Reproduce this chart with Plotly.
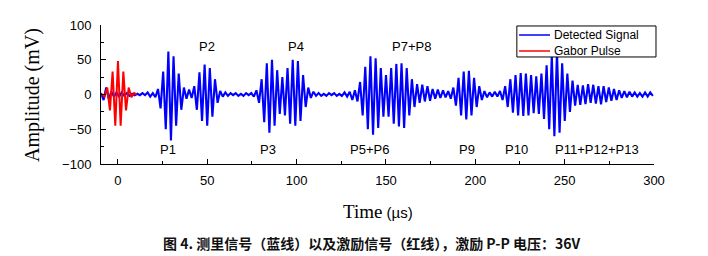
import numpy as np
import plotly.graph_objects as go

# ---------------- data ----------------
# Detected signal: successive oscillation extrema (mV), sampled every half period
blue_t_start = -9.5      # µs
blue_step = 1.45         # µs between successive extrema
blue_peaks = [
    2, -8, 10, -6, 4, -3, 3, -3, 3, -2,            # k0-9
    2, -2, 1, -1, 1, -1, 2, -1, 3, -3,             # k10-19
    2, -4, 8, -20, 33, -50, 62, -66, 55, -45,      # k20-29  P1
    30, -22, 10, -6, 7, -5, 12, -22, 32, -38,      # k30-39  P2 start
    43, -45, 38, -32, 22, -12, 5, -3, 3, -2,       # k40-49
    2, -1, 2, -2, 1, -2, 2, -1, 2, -3,             # k50-59
    6, -12, 22, -40, 45, -55, 50, -45, 35, -28,    # k60-69  P3
    25, -30, 38, -42, 50, -45, 48, -38, 28, -18,   # k70-79  P4
    10, -5, 4, -2, 2, -2, 1, -2, 2, -1,            # k80-89
    2, -2, 1, -2, 3, -3, 4, -8, 6, -10,            # k90-99
    18, -30, 40, -50, 55, -58, 52, -48, 38, -32,   # k100-109 P5+P6
    28, -32, 38, -42, 44, -46, 45, -48, 38, -30,   # k110-119 P7+P8
    22, -18, 15, -12, 14, -10, 12, -9, 8, -6,      # k120-129
    7, -5, 6, -4, 5, -6, 10, -16, 24, -30,         # k130-139 P9
    33, -36, 34, -30, 24, -18, 12, -8, 5, -4,      # k140-149
    3, -3, 4, -3, 5, -8, 12, -18, 22, -26,         # k150-159 P10
    28, -30, 31, -31, 30, -30, 28, -27, 26, -28,   # k160-169
    30, -35, 42, -50, 56, -60, 62, -55, 45, -38,   # k170-179 P11+P12+P13
    30, -25, 20, -16, 14, -15, 13, -14, 15, -12,   # k180-189
    14, -13, 12, -14, 12, -11, 10, -9, 8, -8,      # k190-199
    6, -5, 5, -4, 4, -3, 3, -3, 2, -3,             # k200-209
    3, -3, 3, -2,                                  # k210-213
]

# Gabor excitation pulse
red_time = [-9, -7.5, -6, -4.5, -3, -1.5, 0, 1.5, 3, 4.5, 6, 7.5, 9, 10.5]
red_amp = [0, -3, 10, -23, 33, -45, 48, -45, 33, -23, 10, -4, 2, 0]

# Packet labels
label_text = ["P1", "P2", "P3", "P4", "P5+P6", "P7+P8", "P9", "P10", "P11+P12+P13"]
label_t = [28.0, 49.8, 83.9, 99.6, 140.5, 164.5, 195.3, 223.3, 268.0]
label_v = [-79, 69, -79, 69, -79, 69, -79, -79, -79]

x_ticks = [0, 50, 100, 150, 200, 250, 300]
y_ticks = [-100, -50, 0, 50, 100]

series_names = ["Detected Signal", "Gabor Pulse"]
series_colors = ["#0000FF", "#FF0000"]

caption = "图 4. 测里信号（蓝线）以及激励信号（红线），激励 P-P 电压：36V"

# ---------------- figure ----------------
blue_time = blue_t_start + blue_step * np.arange(len(blue_peaks))

fig = go.Figure()
fig.add_trace(go.Scatter(x=blue_time, y=blue_peaks, mode="lines",
                         line=dict(color=series_colors[0], width=2.1),
                         name=series_names[0], showlegend=False))
fig.add_trace(go.Scatter(x=red_time, y=red_amp, mode="lines",
                         line=dict(color=series_colors[1], width=2),
                         name=series_names[1], showlegend=False))

for txt, t, v in zip(label_text, label_t, label_v):
    fig.add_annotation(x=t, y=v, text=txt, showarrow=False,
                       font=dict(family="Liberation Sans, Arial", size=13, color="#000"),
                       xanchor="center", yanchor="middle")

# Legend box (drawn in paper coordinates)
fig.add_shape(type="rect", xref="paper", yref="paper", x0=0.752, x1=1.0036,
              y0=0.770, y1=0.993, line=dict(color="#000", width=1), fillcolor="white",
              layer="above")
for i, (nm, col) in enumerate(zip(series_names, series_colors)):
    yy = 0.928 - i * 0.115
    fig.add_shape(type="line", xref="paper", yref="paper", x0=0.756, x1=0.812,
                  y0=yy, y1=yy, line=dict(color=col, width=1.5), layer="above")
    fig.add_annotation(xref="paper", yref="paper", x=0.8156, y=yy, text=nm,
                       showarrow=False, xanchor="left", yanchor="middle",
                       font=dict(family="Liberation Sans, Arial", size=12, color="#000"))

fig.add_annotation(xref="paper", yref="paper", x=0.5, y=-0.345,
                   text="<span style='font-family:Liberation Serif'>Time</span>"
                        "<span style='font-family:Liberation Sans;font-size:15px'> (µs)</span>",
                   showarrow=False, xanchor="center", yanchor="middle",
                   font=dict(family="Liberation Serif", size=19, color="#000"))

fig.add_annotation(xref="paper", yref="paper", x=-0.124, y=0.5,
                   text="Amplitude (mV)", textangle=-90, showarrow=False,
                   xanchor="center", yanchor="middle",
                   font=dict(family="Liberation Serif", size=20, color="#000"))

fig.add_annotation(xref="paper", yref="paper", x=0.49, y=-0.565,
                   text="<b>" + caption + "</b>", showarrow=False,
                   xanchor="center", yanchor="middle",
                   font=dict(family="Noto Sans CJK SC", size=14, color="#111"))

axis_common = dict(showgrid=False, zeroline=False, showline=True, linecolor="#000",
                   linewidth=1, ticks="inside", ticklen=5, tickwidth=1, tickcolor="#000",
                   tickfont=dict(family="Liberation Sans, Arial", size=13, color="#000"),
                   minor=dict(ticks="inside", ticklen=3, tickwidth=1, tickcolor="#000",
                              dtick=25))

fig.update_xaxes(range=[-9.5, 300], tickvals=x_ticks, ticklabelstandoff=4, **axis_common)
fig.update_yaxes(range=[-100, 100], tickvals=y_ticks, ticklabelstandoff=6, **axis_common)

fig.update_layout(
    width=708, height=256,
    margin=dict(l=101, r=54, t=25, b=92),
    plot_bgcolor="white", paper_bgcolor="white",
    showlegend=False,
)

fig.write_html("out.html")
